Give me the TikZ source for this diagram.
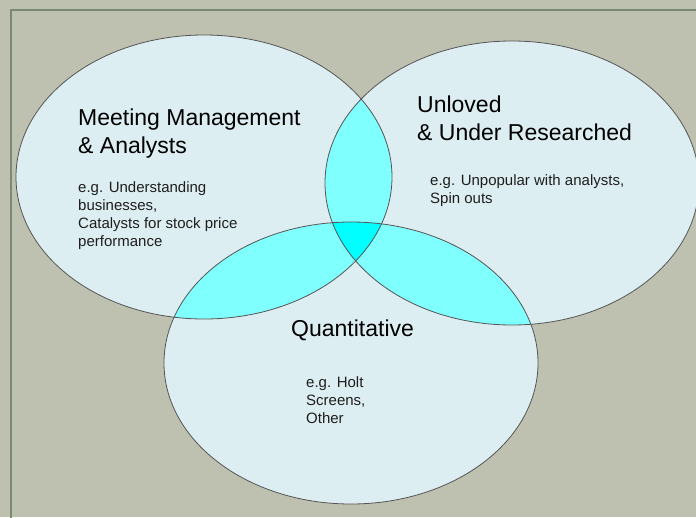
\documentclass[tikz,border=0pt]{standalone}
\usepackage{fontspec}
\setmainfont{Liberation Sans}
\definecolor{panelbg}{RGB}{190,192,176}
\definecolor{framegreen}{RGB}{122,138,114}
\definecolor{setfill}{RGB}{221,238,242}
\definecolor{pairfill}{RGB}{128,255,255}
\definecolor{triplefill}{RGB}{0,255,255}
\definecolor{setline}{RGB}{85,85,85}
\definecolor{notetext}{RGB}{30,30,30}
\tikzset{
  headtext/.style={font=\fontsize{23}{27.5}\selectfont, align=left, inner sep=0pt, text=black},
  notestyle/.style={font=\fontsize{15}{17.8}\selectfont, align=left, inner sep=0pt, text=notetext},
  setedge/.style={draw=setline, line width=0.8pt}
}
\begin{document}
\begin{tikzpicture}[x=1pt,y=-1pt]
\useasboundingbox (0,0) rectangle (696,517);
\clip (0,0) rectangle (696,517);
\fill[panelbg] (0,0) rectangle (696,517);
\draw[framegreen, line width=2.2pt] (11,10) rectangle (730,560);

% the three sets
\def\setMeet{(204,177) ellipse [x radius=188, y radius=142]}
\def\setUnloved{(512,183) ellipse [x radius=187, y radius=142]}
\def\setQuant{(351,363) ellipse [x radius=187, y radius=141]}

\fill[setfill] \setMeet;
\fill[setfill] \setUnloved;
\fill[setfill] \setQuant;

% pairwise overlaps
\begin{scope}
  \clip \setMeet;
  \fill[pairfill] \setUnloved;
  \fill[pairfill] \setQuant;
\end{scope}
\begin{scope}
  \clip \setUnloved;
  \fill[pairfill] \setQuant;
\end{scope}
% common core
\begin{scope}
  \clip \setMeet;
  \clip \setUnloved;
  \fill[triplefill] \setQuant;
\end{scope}

% outlines on top
\path[setedge] \setMeet;
\path[setedge] \setUnloved;
\path[setedge] \setQuant;

% labels (base anchor sits on the last line of each block)
\node[headtext, anchor=base west] (meethead) at (78,153) {Meeting Management\\\& Analysts};
\node[notestyle, anchor=base west] (meetnote) at (78,246) {e.g. Understanding\\businesses,\\Catalysts for stock price\\performance};
\node[headtext, anchor=base west] (unlovedhead) at (417,140) {Unloved\\\& Under Researched};
\node[notestyle, anchor=base west] (unlovednote) at (430,203) {e.g. Unpopular with analysts,\\Spin outs};
\node[headtext, anchor=base west] (quanthead) at (291,336) {Quantitative};
\node[notestyle, anchor=base west] (quantnote) at (306,423) {e.g. Holt\\Screens,\\Other};
\end{tikzpicture}
\end{document}
